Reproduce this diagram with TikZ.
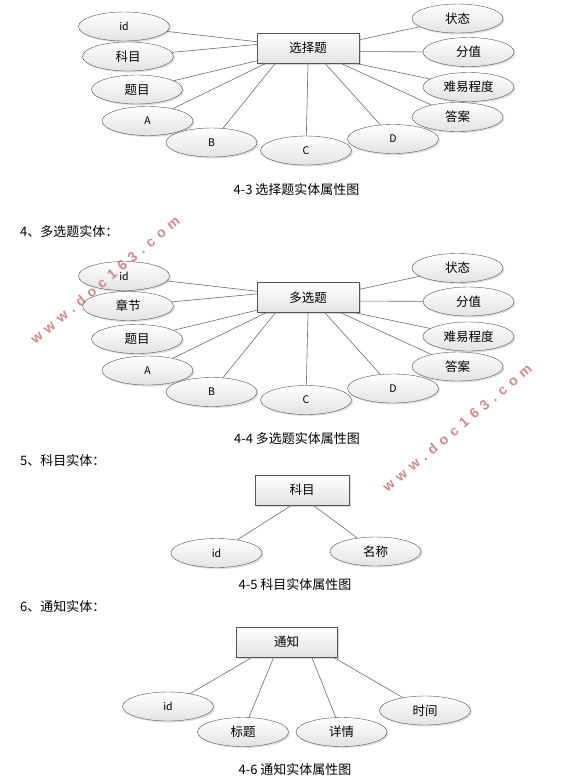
\documentclass[tikz,border=0pt]{standalone}
\usepackage{fontspec}
\setmainfont{Noto Sans CJK SC}
\newfontfamily\stampfont[LetterSpace=40]{Liberation Sans}
\usetikzlibrary{shapes.geometric,shadows}
\definecolor{linegray}{RGB}{110,110,110}
\definecolor{edgegray}{RGB}{85,85,85}
\definecolor{stampred}{RGB}{205,105,105}
\newcommand\lat[1]{{\fontsize{10.5}{12}\selectfont #1}}

\tikzset{
    entity/.style={rectangle, draw=edgegray, top color=white, bottom color=gray!22,
        minimum height=30pt, inner sep=0pt, font=\fontsize{12.5}{14}\selectfont,
        drop shadow={opacity=0.3, shadow xshift=1.5pt, shadow yshift=-1.5pt}},
    attr/.style={ellipse, draw=edgegray, top color=white, bottom color=gray!22,
        minimum width=91pt, minimum height=29pt, inner sep=0pt, font=\fontsize{12.5}{14}\selectfont,
        drop shadow={opacity=0.25, shadow xshift=1.5pt, shadow yshift=-1.5pt}},
    link/.style={draw=linegray, line width=0.6pt},
    caption/.style={font=\fontsize{13}{15}\selectfont},
    heading/.style={anchor=west, inner sep=0pt, font=\fontsize{13}{15}\selectfont},
    stamp/.style={text=stampred, opacity=0.8, font=\stampfont\bfseries\fontsize{14}{16}\selectfont},
}

\begin{document}
\begin{tikzpicture}[x=1pt,y=-1pt]
    \useasboundingbox (0,0) rectangle (587,780);
    \fill[white] (0,0) rectangle (587,780);
    % 4-3 single choice
    \node[entity, minimum width=102pt] (q1) at (308,48) {选择题};
    \foreach \n/\x/\y/\a/\t in {id/124/26.5/173/\lat{id}, km/128/56.5/176/科目, tm/137/89.5/194/题目,
            a/147.5/121/200/\lat{A}, b/211.5/142.5/205/\lat{B}, c/306/150.5/270/\lat{C}, d/393/139/318/\lat{D},
            zt/457.5/18.5/9/状态, fz/468.5/52/356/分值, nd/468.5/87/342/难易程度, da/457.5/117/335/答案}{
        \node[attr] (q1-\n) at (\x,\y) {\t};
        \draw[link] (q1.\a) -- (q1-\n);
    }
    \node[caption] (cap1) at (296.5,189.5) {4-3 选择题实体属性图};
    % 4-4 multiple choice
    \node[heading] (head4) at (20,232) {4、多选题实体：};
    \begin{scope}[yshift=-249.5pt]
        \node[entity, minimum width=102pt] (q2) at (308,48) {多选题};
        \foreach \n/\x/\y/\a/\t in {id/124/26.5/173/\lat{id}, zj/128/56.5/176/章节, tm/137/89.5/194/题目,
                a/147.5/121/200/\lat{A}, b/211.5/142.5/205/\lat{B}, c/306/150.5/270/\lat{C}, d/393/139/318/\lat{D},
                zt/457.5/18.5/9/状态, fz/468.5/52/356/分值, nd/468.5/87/342/难易程度, da/457.5/117/335/答案}{
            \node[attr] (q2-\n) at (\x,\y) {\t};
            \draw[link] (q2.\a) -- (q2-\n);
        }
    \end{scope}
    \node[caption] (cap2) at (297,438.5) {4-4 多选题实体属性图};
    % 4-5 subject
    \node[heading] (head5) at (20,460) {5、科目实体：};
    \node[entity, minimum width=94pt] (km) at (302,490) {科目};
    \node[attr] (km-id) at (216.5,553) {\lat{id}};
    \node[attr] (km-mc) at (375.5,551.5) {名称};
    \draw[link] (km.236) -- (km-id);
    \draw[link] (km.306) -- (km-mc);
    \node[caption] (cap3) at (295,585) {4-5 科目实体属性图};
    % 4-6 notice
    \node[heading] (head6) at (20,606) {6、通知实体：};
    \node[entity, minimum width=101pt] (tz) at (286.5,642) {通知};
    \foreach \n/\x/\y/\a/\t in {id/168/706.5/204/\lat{id}, bt/243/732/230/标题,
            xq/341.5/732/329.5/详情, sj/425/710.5/342/时间}{
        \node[attr] (tz-\n) at (\x,\y) {\t};
        \draw[link] (tz.\a) -- (tz-\n);
    }
    \node[caption] (cap4) at (295,770) {4-6 通知实体属性图};
    % watermarks
    \node[stamp, rotate=40] (wm1) at (105,280) {www.doc163.com};
    \node[stamp, rotate=40] (wm2) at (457,428) {www.doc163.com};
\end{tikzpicture}
\end{document}
